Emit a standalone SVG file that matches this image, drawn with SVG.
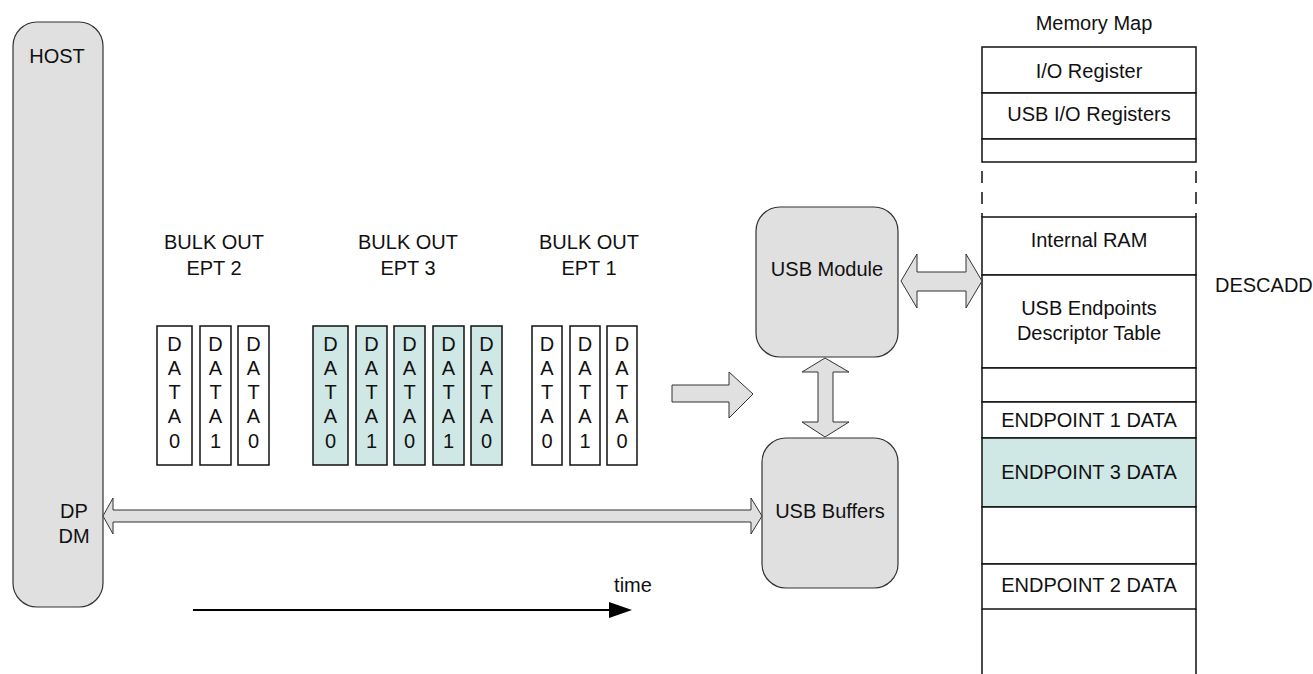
<svg xmlns="http://www.w3.org/2000/svg" width="1313" height="674" viewBox="0 0 1313 674">
<style>
text{font-family:"Liberation Sans",Arial,sans-serif;font-size:20px;fill:#111;text-anchor:middle}
.grey{fill:#e0e0e0;stroke:#333;stroke-width:1.2}
.pkt{fill:#fff;stroke:#111;stroke-width:1.5}
.pkt3{fill:#cfe7e5;stroke:#111;stroke-width:1.5}
.mm{fill:#fff;stroke:#111;stroke-width:1.5}
.mm3{fill:#cfe7e5;stroke:#111;stroke-width:1.5}
.side{stroke:#111;stroke-width:1.5;fill:none}
.blk{fill:#e0e0e0;stroke:#333;stroke-width:1}
</style>
<defs>
<g id="pk">
<text x="0" y="0">D</text><text x="0" y="24">A</text><text x="0" y="48">T</text><text x="0" y="72">A</text>
</g>
</defs>
<rect width="1313" height="674" fill="#fff"/>

<g id="host">
<rect class="grey" x="13" y="22" width="90" height="585" rx="24"/>
<text x="57" y="63">HOST</text>
<text x="74" y="518">DP</text>
<text x="74" y="543">DM</text>
</g>

<g id="ept2">
<text x="214" y="249">BULK OUT</text>
<text x="214" y="275">EPT 2</text>
<rect class="pkt" x="157" y="326" width="35" height="139"/>
<use href="#pk" x="174.5" y="351"/><text x="174.5" y="448">0</text>
<rect class="pkt" x="200" y="326" width="31" height="139"/>
<use href="#pk" x="215.5" y="351"/><text x="215.5" y="448">1</text>
<rect class="pkt" x="238" y="326" width="31" height="139"/>
<use href="#pk" x="253.5" y="351"/><text x="253.5" y="448">0</text>
</g>

<g id="ept3">
<text x="408" y="249">BULK OUT</text>
<text x="408" y="275">EPT 3</text>
<rect class="pkt3" x="313" y="326" width="35" height="139"/>
<use href="#pk" x="330.5" y="351"/><text x="330.5" y="448">0</text>
<rect class="pkt3" x="356" y="326" width="31" height="139"/>
<use href="#pk" x="371.5" y="351"/><text x="371.5" y="448">1</text>
<rect class="pkt3" x="394" y="326" width="31" height="139"/>
<use href="#pk" x="409.5" y="351"/><text x="409.5" y="448">0</text>
<rect class="pkt3" x="433" y="326" width="31" height="139"/>
<use href="#pk" x="448.5" y="351"/><text x="448.5" y="448">1</text>
<rect class="pkt3" x="471" y="326" width="31" height="139"/>
<use href="#pk" x="486.5" y="351"/><text x="486.5" y="448">0</text>
</g>

<g id="ept1">
<text x="589" y="249">BULK OUT</text>
<text x="589" y="275">EPT 1</text>
<rect class="pkt" x="532" y="326" width="30" height="139"/>
<use href="#pk" x="547" y="351"/><text x="547" y="448">0</text>
<rect class="pkt" x="570" y="326" width="30" height="139"/>
<use href="#pk" x="585" y="351"/><text x="585" y="448">1</text>
<rect class="pkt" x="607" y="326" width="30" height="139"/>
<use href="#pk" x="622" y="351"/><text x="622" y="448">0</text>
</g>

<g id="usb-module">
<rect class="grey" x="756" y="207" width="142" height="150" rx="24"/>
<text x="827" y="276">USB Module</text>
</g>

<g id="usb-buffers">
<rect class="grey" x="762" y="438" width="136" height="150" rx="24"/>
<text x="830" y="518">USB Buffers</text>
</g>

<g id="memory-map">
<text x="1094" y="30">Memory Map</text>
<rect class="mm" x="982" y="47" width="214" height="46"/>
<rect class="mm" x="982" y="93" width="214" height="46"/>
<rect class="mm" x="982" y="139" width="214" height="23"/>
<path class="side" d="M982 171V183M982 192V204M982 213V217M1196 171V183M1196 192V204M1196 213V217"/>
<rect class="mm" x="982" y="217" width="214" height="58"/>
<rect class="mm" x="982" y="275" width="214" height="93"/>
<rect class="mm" x="982" y="368" width="214" height="34"/>
<rect class="mm" x="982" y="402" width="214" height="36"/>
<rect class="mm3" x="982" y="438" width="214" height="69"/>
<rect class="mm" x="982" y="507" width="214" height="57"/>
<rect class="mm" x="982" y="564" width="214" height="45"/>
<path class="side" d="M982 609V675M1196 609V675"/>
<text x="1089" y="78">I/O Register</text>
<text x="1089" y="121">USB I/O Registers</text>
<text x="1089" y="247">Internal RAM</text>
<text x="1089" y="315">USB Endpoints</text>
<text x="1089" y="340">Descriptor Table</text>
<text x="1089" y="427">ENDPOINT 1 DATA</text>
<text x="1089" y="479">ENDPOINT 3 DATA</text>
<text x="1089" y="592">ENDPOINT 2 DATA</text>
<text x="1215" y="292" style="text-anchor:start">DESCADD</text>
</g>

<g id="connectors">
<polygon class="blk" points="103,516 113,498 113,510 751,510 751,498 762,516 751,534 751,522 113,522 113,534"/>
<polygon class="blk" points="825,358 849,372 833,372 833,422 849,422 825,437 802,422 818,422 818,372 802,372"/>
<polygon class="blk" points="672,385 729,385 729,372 753,394 729,418 729,402 672,402"/>
<polygon class="blk" points="901,281 917,254 917,272 966,272 966,254 982,281 966,308 966,291 917,291 917,308"/>
<line x1="193" y1="610" x2="612" y2="610" stroke="#000" stroke-width="2"/>
<polygon points="609,602 632,610 609,618" fill="#000"/>
<text x="633" y="592">time</text>
</g>
</svg>
